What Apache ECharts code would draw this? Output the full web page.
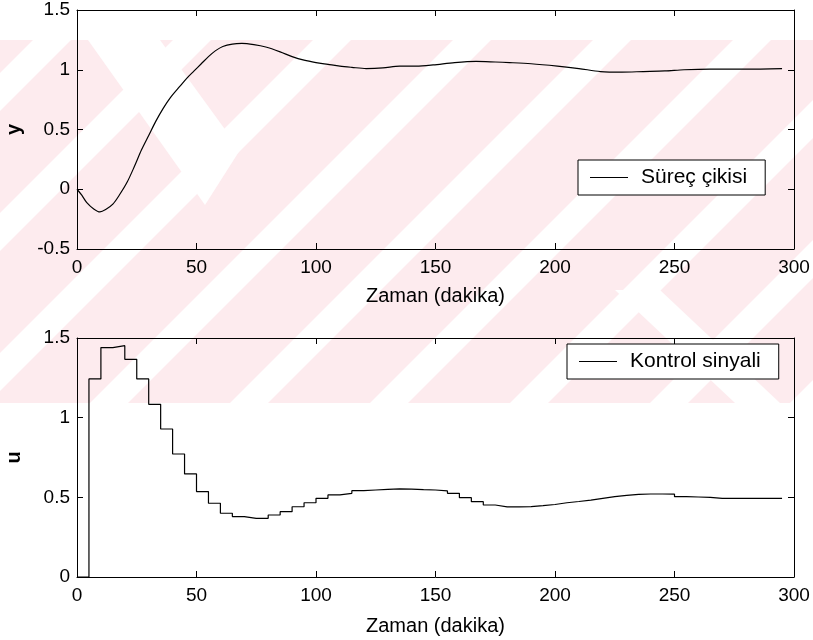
<!DOCTYPE html>
<html>
<head>
<meta charset="utf-8">
<script src="https://cdn.jsdelivr.net/npm/echarts@6/dist/echarts.min.js"></script>
<style>
html,body{margin:0;padding:0;background:#fff;}
#chart{width:813px;height:640px;}
</style>
</head>
<body>
<div id="chart"></div>
<script>
// ---- data ----
var xTicks = [0, 50, 100, 150, 200, 250, 300];
var yTopTicks = [-0.5, 0, 0.5, 1, 1.5];
var yBotTicks = [0, 0.5, 1, 1.5];

var timeY = [0,2,4,7,9.6,12,15,18,21,24,27,30,33,36,39,43,46,49,52,55,58,61,65,69,74,79,85,90,95,100,105,110,115,121,128,135,142,149,158,167,175,181,190,201,210,219,228,237,246,254,265,280,295];
var valuesY = [0,-0.05,-0.11,-0.165,-0.19,-0.17,-0.125,-0.04,0.06,0.19,0.33,0.45,0.57,0.675,0.765,0.86,0.93,0.99,1.05,1.11,1.16,1.195,1.215,1.22,1.21,1.19,1.15,1.11,1.08,1.06,1.045,1.03,1.02,1.01,1.015,1.03,1.03,1.04,1.06,1.07,1.065,1.06,1.05,1.03,1.01,0.985,0.98,0.985,0.99,1.0,1.005,1.005,1.01];

var timeU = [0,5,10,15,20,25,30,35,40,45,50,55,60,65,70,75,80,85,90,95,100,105,110,115,120,125,130,135,140,145,150,155,160,165,170,175,180,185,190,195,200,205,210,215,220,225,230,235,240,245,250,255,260,265,270,275,280,285,290,295];
var valuesU = [0,1.243,1.44,1.452,1.366,1.243,1.084,0.929,0.772,0.647,0.536,0.463,0.40,0.379,0.368,0.368,0.389,0.41,0.441,0.466,0.494,0.515,0.525,0.542,0.546,0.55,0.553,0.552,0.548,0.546,0.54,0.525,0.498,0.473,0.452,0.44,0.44,0.442,0.448,0.455,0.466,0.474,0.483,0.494,0.504,0.512,0.519,0.521,0.521,0.52,0.504,0.502,0.5,0.494,0.494,0.494,0.494,0.494,0.494,0.494];

var nameY = 'Süreç çikisi';
var nameU = 'Kontrol sinyali';
var xName = 'Zaman (dakika)';

function pairs(xs, ys){ return xs.map(function(x,i){ return [x, ys[i]]; }); }

// ---- background watermark (decoration) ----
var PINK = '#fdebee';
var bg = [];
bg.push({type:'rect', z:-10, silent:true, shape:{x:0,y:40,width:813,height:363}, style:{fill:PINK}});
var slashStarts = [-330,-190,-50,90,230,370,510,650,790];
slashStarts.forEach(function(a){
  bg.push({type:'polygon', z:-9, silent:true, shape:{points:[[a,403],[a+38,403],[a+38+363,40],[a+363,40]]}, style:{fill:'#fff'}});
});
bg.push({type:'polygon', z:-9, silent:true, shape:{points:[[88,40],[160,40],[240,150],[205,205]]}, style:{fill:'#fff'}});
bg.push({type:'polygon', z:-9, silent:true, shape:{points:[[615,290],[660,290],[780,403],[735,403]]}, style:{fill:'#fff'}});
bg.push({type:'rect', z:-8, silent:true, shape:{x:0,y:0,width:813,height:40}, style:{fill:'#fff'}});
bg.push({type:'rect', z:-8, silent:true, shape:{x:0,y:403,width:813,height:237}, style:{fill:'#fff'}});

var FONT = 'Liberation Sans, Arial, sans-serif';
var tickLabel = {color:'#000', fontSize:19, fontFamily:FONT};
var axisLine = {show:true, onZero:false, lineStyle:{color:'#000', width:1}};
var axisTick = {show:true, inside:true, length:6, lineStyle:{color:'#000', width:1}};

function xAxisPair(gi){
  return [
    {type:'value', gridIndex:gi, min:0, max:300, interval:50, position:'bottom',
     axisLine:axisLine, axisTick:axisTick, splitLine:{show:false},
     axisLabel:Object.assign({margin:9}, tickLabel),
     name:xName, nameLocation:'middle', nameGap: gi===0?37:39,
     nameTextStyle:{color:'#000', fontSize:20, fontFamily:FONT}},
    {type:'value', gridIndex:gi, min:0, max:300, interval:50, position:'top',
     axisLine:axisLine, axisTick:axisTick, splitLine:{show:false}, axisLabel:{show:false}}
  ];
}
function yAxisPair(gi, mn, mx, nm){
  return [
    {type:'value', gridIndex:gi, min:mn, max:mx, interval:0.5, position:'left',
     axisLine:axisLine, axisTick:axisTick, splitLine:{show:false},
     axisLabel:Object.assign({margin:7}, tickLabel),
     name:nm, nameLocation:'middle', nameGap:53,
     nameTextStyle:{color:'#000', fontSize:20, fontFamily:FONT, fontWeight:'bold'}},
    {type:'value', gridIndex:gi, min:mn, max:mx, interval:0.5, position:'right',
     axisLine:axisLine, axisTick:axisTick, splitLine:{show:false}, axisLabel:{show:false}}
  ];
}

var chart = echarts.init(document.getElementById('chart'), null, {renderer:'canvas'});
var option = {
  animation:false,
  backgroundColor:'#fff',
  graphic: bg,
  grid:[
    {left:77, top:10, width:717, height:239, containLabel:false, outerBoundsMode:'none'},
    {left:77, top:338, width:717, height:239, containLabel:false, outerBoundsMode:'none'}
  ],
  xAxis: xAxisPair(0).concat(xAxisPair(1)),
  yAxis: yAxisPair(0,-0.5,1.5,'y').concat(yAxisPair(1,0,1.5,'u')),
  legend:[
    {data:[{name:nameY, icon:'rect'}], left:578, top:160, orient:'horizontal',
     borderColor:'#000', borderWidth:1, padding:[7,18,7,12], itemWidth:38, itemHeight:1, itemGap:10,
     backgroundColor:'#fff',
     textStyle:{color:'#000', fontSize:21, fontFamily:FONT, padding:[0,0,0,8]}},
    {data:[{name:nameU, icon:'rect'}], left:567, top:344, orient:'horizontal',
     borderColor:'#000', borderWidth:1, padding:[7,18,7,12], itemWidth:38, itemHeight:1, itemGap:10,
     backgroundColor:'#fff',
     textStyle:{color:'#000', fontSize:21, fontFamily:FONT, padding:[0,0,0,8]}}
  ],
  series:[
    {name:nameY, type:'line', xAxisIndex:0, yAxisIndex:0, data:pairs(timeY, valuesY),
     smooth:0.3, showSymbol:false, symbol:'none', lineStyle:{color:'#000', width:1.2}, itemStyle:{color:'#000'}},
    {name:nameU, type:'line', xAxisIndex:2, yAxisIndex:2, data:pairs(timeU, valuesU),
     step:'end', showSymbol:false, symbol:'none', lineStyle:{color:'#000', width:1.2}, itemStyle:{color:'#000'}}
  ]
};
chart.setOption(option);
</script>
</body>
</html>
